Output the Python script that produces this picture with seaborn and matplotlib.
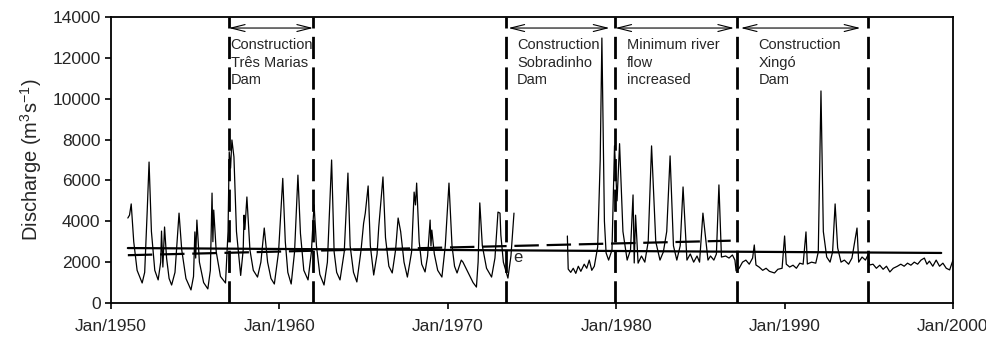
import numpy as np
import pandas as pd
import matplotlib
matplotlib.use("Agg")
import matplotlib.pyplot as plt
import seaborn as sns

# ---------------- data ----------------
seg1_years = [1951.0, 1951.1, 1951.2, 1951.35, 1951.55, 1951.85, 1952.0, 1952.15, 1952.26, 1952.4,
              1952.6, 1952.8, 1952.95, 1953.0, 1953.08, 1953.18, 1953.3, 1953.45, 1953.6, 1953.8,
              1954.04, 1954.2, 1954.45, 1954.75, 1954.9, 1954.98, 1955.03, 1955.1, 1955.25, 1955.5,
              1955.75, 1955.9, 1956.0, 1956.05, 1956.1, 1956.25, 1956.5, 1956.8, 1956.95, 1957.02,
              1957.1, 1957.18, 1957.3, 1957.45, 1957.7, 1957.85, 1957.9, 1957.95, 1958.07, 1958.25,
              1958.45, 1958.7, 1958.9, 1959.1, 1959.3, 1959.5, 1959.7, 1959.95, 1960.2, 1960.35,
              1960.5, 1960.7, 1960.9, 1961.1, 1961.25, 1961.45, 1961.7, 1961.9, 1962.0, 1962.06,
              1962.2, 1962.4, 1962.65, 1962.85, 1963.1, 1963.25, 1963.4, 1963.6, 1963.85, 1964.07,
              1964.2, 1964.4, 1964.6, 1964.85, 1965.0, 1965.1, 1965.27, 1965.4, 1965.6, 1965.8,
              1965.9, 1966.15, 1966.3, 1966.5, 1966.7, 1966.9, 1967.05, 1967.2, 1967.4, 1967.6,
              1967.85, 1968.0, 1968.08, 1968.15, 1968.3, 1968.45, 1968.65, 1968.8, 1968.95, 1969.0,
              1969.05, 1969.2, 1969.4, 1969.65, 1969.85, 1970.07, 1970.25, 1970.4, 1970.55, 1970.8,
              1970.9, 1971.2, 1971.5, 1971.7, 1971.8, 1971.9, 1972.05, 1972.3, 1972.6, 1972.8,
              1972.98, 1973.1, 1973.15, 1973.3, 1973.57, 1973.75, 1973.93]
seg1_flow = [4160, 4300, 4850, 3000, 1600, 980, 1500, 4500, 6900, 3500,
             1600, 1130, 2000, 3520, 1760, 3720, 2200, 1200, 880, 1500,
             4400, 2600, 1200, 640, 1300, 3480, 2200, 4060, 2000, 1000,
             690, 1600, 5380, 3000, 4550, 2500, 1300, 980, 3500, 7400,
             6600, 7980, 7150, 3500, 1350, 2600, 4300, 3600, 5190, 2600,
             1600, 1270, 2000, 3670, 2000, 1200, 930, 2500, 6100, 3000,
             1500, 930, 2500, 6260, 3400, 1600, 1130, 2500, 4000, 4800,
             2800, 1400, 880, 2000, 7000, 2500, 1500, 1130, 2500, 6360,
             2800, 1500, 1030, 2600, 3900, 4400, 5730, 2800, 1370, 2400,
             3720, 6170, 3200, 1800, 1470, 2600, 4160, 3500, 2000, 1270,
             2500, 5430, 4800, 5870, 3000, 1900, 1520, 2300, 4060, 2800,
             3570, 2400, 1600, 1270, 2800, 5870, 2800, 1800, 1470, 2100,
             2000, 1500, 1000, 780, 2000, 4900, 2800, 1700, 1270, 2200,
             4450, 4400, 3330, 2000, 1220, 2300, 4400]

seg2_years = [1977.1, 1977.15, 1977.3, 1977.45, 1977.6, 1977.75, 1977.9, 1978.1, 1978.25, 1978.4,
              1978.55, 1978.7, 1978.9, 1979.05, 1979.15, 1979.3, 1979.4, 1979.55, 1979.75, 1979.9,
              1980.05, 1980.2, 1980.4, 1980.65, 1980.85, 1981.0, 1981.07, 1981.15, 1981.3, 1981.5,
              1981.7, 1981.9, 1982.1, 1982.35, 1982.6, 1982.8, 1983.0, 1983.2, 1983.4, 1983.6,
              1983.8, 1983.97, 1984.2, 1984.4, 1984.6, 1984.8, 1984.95, 1985.15, 1985.45, 1985.6,
              1985.8, 1985.95, 1986.1, 1986.25, 1986.5, 1986.7, 1986.9, 1987.05, 1987.12, 1987.3,
              1987.5, 1987.7, 1987.9, 1988.1, 1988.2, 1988.3, 1988.5, 1988.7, 1988.9, 1989.1,
              1989.4, 1989.6, 1989.85, 1990.0, 1990.1, 1990.3, 1990.5, 1990.7, 1990.9, 1991.1,
              1991.27, 1991.35, 1991.6, 1991.85, 1992.0, 1992.16, 1992.3, 1992.5, 1992.7, 1992.85,
              1993.0, 1993.15, 1993.35, 1993.55, 1993.8, 1994.0, 1994.3, 1994.4, 1994.6, 1994.8,
              1994.95, 1995.05, 1995.25, 1995.45, 1995.65, 1995.85, 1996.05, 1996.25, 1996.45, 1996.7,
              1996.9, 1997.1, 1997.3, 1997.5, 1997.7, 1997.9, 1998.1, 1998.3, 1998.45, 1998.6,
              1998.8, 1999.0, 1999.2, 1999.4, 1999.6, 1999.8, 2000.0]
seg2_flow = [3280, 1660, 1500, 1700, 1450, 1800, 1550, 1900, 1700, 2100,
             1600, 1800, 2740, 7000, 12970, 4000, 2450, 2100, 2600, 7700,
             5000, 7800, 3500, 2100, 2600, 5290, 1960, 4300, 1950, 2300,
             2000, 3000, 7690, 3000, 2100, 2500, 3500, 7200, 2800, 2100,
             2800, 5680, 2100, 2400, 2000, 2300, 2000, 4400, 2100, 2300,
             2100, 2400, 5780, 2250, 2300, 2200, 2350, 2100, 1570, 1700,
             2000, 2100, 1900, 2200, 2840, 1860, 1750, 1600, 1700, 1550,
             1470, 1650, 1700, 3280, 1900, 1760, 1850, 1700, 1950, 1900,
             3480, 1910, 2000, 1950, 2500, 10380, 3500, 2250, 2000, 2500,
             4850, 2700, 2000, 2100, 1900, 2200, 3670, 2000, 2250, 2100,
             2350, 1860, 1900, 1700, 1850, 1650, 1800, 1520, 1700, 1800,
             1900, 1800, 1950, 1850, 2000, 1900, 2100, 2200, 1900, 2050,
             1800, 2100, 1800, 1950, 1700, 1620, 2100]

# trend lines
trend_all_years = [1951.0, 1999.3]
trend_all_flow = [2690, 2450]
trend_pre_years = [1951.0, 1986.8]
trend_pre_flow = [2340, 3050]

# events
event_years = [1957.0, 1962.0, 1973.45, 1979.9, 1987.15, 1994.95]
arrow_starts = [1957.0, 1973.6, 1979.95, 1987.4]
arrow_ends = [1962.0, 1979.6, 1987.0, 1994.5]
event_labels = ["Construction\nTrês Marias\nDam",
                "Construction\nSobradinho\nDam",
                "Minimum river\nflow\nincreased",
                "Construction\nXingó\nDam"]
label_x = [1957.1, 1974.1, 1980.65, 1988.45]

x_ticks = [1950, 1960, 1970, 1980, 1990, 2000]
x_tick_labels = ["Jan/1950", "Jan/1960", "Jan/1970", "Jan/1980", "Jan/1990", "Jan/2000"]
y_ticks = [0, 2000, 4000, 6000, 8000, 10000, 12000, 14000]

# ---------------- plot ----------------
sns.set_style("ticks")
plt.rcParams["font.family"] = ["Liberation Sans", "DejaVu Sans"]
plt.rcParams["mathtext.fontset"] = "custom"
plt.rcParams["mathtext.rm"] = "Liberation Sans"
plt.rcParams["mathtext.it"] = "Liberation Sans:italic"

df = pd.DataFrame({
    "year": seg1_years + seg2_years,
    "flow": seg1_flow + seg2_flow,
    "segment": ["a"] * len(seg1_years) + ["b"] * len(seg2_years),
})

fig = plt.figure(figsize=(9.87, 3.41), dpi=100)
ax = fig.add_axes([111 / 987, 1 - 303 / 341, (953 - 111) / 987, (303 - 17) / 341])

sns.lineplot(data=df, x="year", y="flow", units="segment", estimator=None, sort=False,
             color="black", lw=0.9, ax=ax)

sns.lineplot(x=trend_all_years, y=trend_all_flow, color="black", lw=1.6, ax=ax)
sns.lineplot(x=trend_pre_years, y=trend_pre_flow, color="black", lw=1.6,
             linestyle=(0, (11, 3.5)), ax=ax)

for yv in event_years:
    ax.axvline(yv, color="black", lw=2.0, linestyle=(0, (8, 3)), zorder=3)

for x0, x1 in zip(arrow_starts, arrow_ends):
    ax.annotate("", xy=(x0, 13460), xytext=(x1, 13460),
                arrowprops=dict(arrowstyle="<->,head_length=1.0,head_width=0.25",
                                lw=0.8, color="black", shrinkA=0, shrinkB=0))

for lx, lab in zip(label_x, event_labels):
    ax.text(lx, 12950, lab, ha="left", va="top", fontsize=10.5, linespacing=1.3)

ax.text(1974.17, 2250, "e", ha="center", va="center", fontsize=12)

ax.set_xlim(1950, 2000)
ax.set_ylim(0, 14000)
ax.set_xticks(x_ticks)
ax.set_xticklabels(x_tick_labels)
ax.set_yticks(y_ticks)
ax.tick_params(axis="both", direction="out", length=4.5, width=1.2, labelsize=12.5, color="black")
ax.tick_params(axis="x", pad=7)
ax.tick_params(axis="y", pad=3)
ax.set_xlabel("")
ax.set_ylabel("Discharge (m$^3$s$^{-1}$)", fontsize=14.5, labelpad=6)
for sp in ax.spines.values():
    sp.set_linewidth(1.3)
    sp.set_color("black")

fig.savefig("out.png", dpi=100)
